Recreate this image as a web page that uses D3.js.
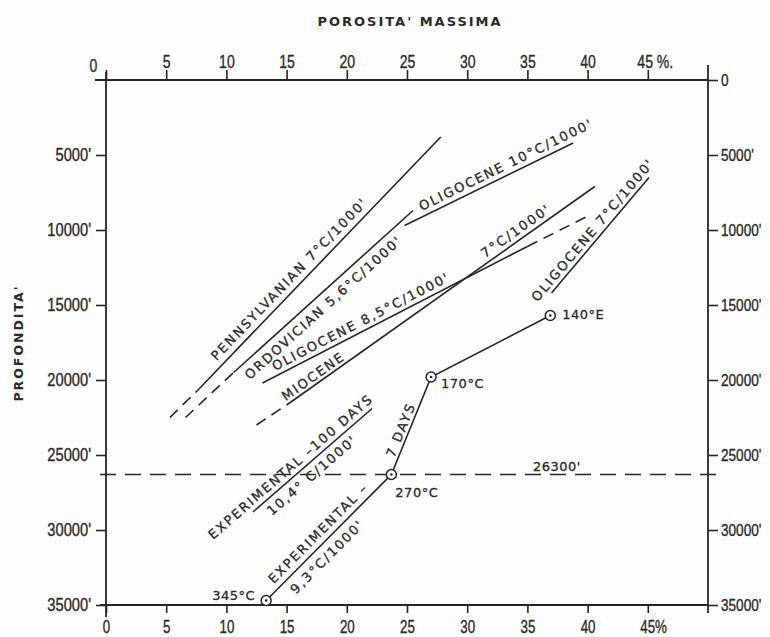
<!DOCTYPE html>
<html><head><meta charset="utf-8">
<script src="https://cdn.jsdelivr.net/npm/d3@7"></script>
<style>
html,body{margin:0;padding:0;background:#fdfdfd;}
svg{display:block;}
</style></head>
<body>
<svg id="chart" width="770" height="637"></svg>
<script>
// ---------- DATA ----------
const xTicks = [0, 5, 10, 15, 20, 25, 30, 35, 40, 45];
const topXLabels = ["0", "5", "10", "15", "20", "25", "30", "35", "40", "45 %."];
const bottomXLabels = ["0", "5", "10", "15", "20", "25", "30", "35", "40", "45%"];
const leftYTicks = [5000, 10000, 15000, 20000, 25000, 30000, 35000];
const leftYLabels = ["5000'", "10000'", "15000'", "20000'", "25000'", "30000'", "35000'"];
const rightYTicks = [0, 5000, 10000, 15000, 20000, 25000, 30000, 35000];
const rightYLabels = ["0", "5000'", "10000'", "15000'", "20000'", "25000'", "30000'", "35000'"];

// lines: [porosity %, depth ft]
const pennsylvanianDashed = [[5.3, 22500], [7.6, 20700]];
const pennsylvanianSolid = [[7.6, 20700], [27.8, 3800]];
const ordovicianDashed = [[6.6, 22500], [10.6, 19500]];
const ordovicianSolid = [[10.6, 19500], [25.5, 8700]];
const oligocene10 = [[24.8, 9700], [38.8, 4200]];
const oligocene85Solid = [[13.0, 20200], [35.0, 11100]];
const oligocene85Dashed = [[35.0, 11100], [40.2, 9000]];
const mioceneDashed = [[12.5, 23000], [15.3, 21500]];
const mioceneSolid = [[15.3, 21500], [40.6, 7100]];
const oligocene7 = [[37.0, 14200], [45.1, 6500]];
const experimental100 = [[12.2, 28800], [22.1, 21900]];

const experimentalPorosity = [13.3, 23.7, 27.0, 36.9];
const experimentalDepth = [34700, 26300, 19800, 15700];
const experimentalLabels = ["345°C", "270°C", "170°C", "140°E"];

const referenceDepth = 26300;
const referenceLabel = "26300'";

// ---------- LAYOUT ----------
const svg = d3.select("#chart");
const x = d3.scaleLinear().domain([0, 50]).range([106, 708]);
const y = d3.scaleLinear().domain([0, 35000]).range([80, 605]);
const ink = "#262626";
const txt = "#2a2a2a";
const tickFont = "'Liberation Sans', 'DejaVu Sans', sans-serif";
const labelFont = "'DejaVu Sans', sans-serif";

// axes frame lines
const frame = svg.append("g").attr("stroke", ink).attr("stroke-width", 1.8);
frame.append("line").attr("x1", 95).attr("x2", x(50)).attr("y1", y(0)).attr("y2", y(0));
frame.append("line").attr("x1", 100).attr("x2", x(50)).attr("y1", y(35000)).attr("y2", y(35000));
frame.append("line").attr("x1", x(0)).attr("x2", x(0)).attr("y1", 72).attr("y2", 617);
frame.append("line").attr("x1", x(50)).attr("x2", x(50)).attr("y1", 65).attr("y2", 613);

// condense tick labels horizontally with a scale transform
function styleAxis(g, size, sx) {
  g.select(".domain").remove();
  g.selectAll(".tick line").attr("stroke", ink).attr("stroke-width", 1.6);
  g.selectAll(".tick text").attr("fill", txt).attr("stroke", txt).attr("stroke-width", 0.35)
    .style("font-family", tickFont).style("font-size", size + "px")
    .each(function () {
      const t = d3.select(this);
      const x0 = +t.attr("x") || 0;
      t.attr("x", x0 / sx).attr("transform", `scale(${sx},1)`);
    });
}
function shiftX(sel, sx, px) { sel.attr("x", px / sx); }

// top axis
const sxX = 0.74;
const gTop = svg.append("g").attr("transform", `translate(0,${y(0)})`)
  .call(d3.axisTop(x).tickValues(xTicks).tickSize(10).tickPadding(2)
    .tickFormat((d, i) => topXLabels[i]));
styleAxis(gTop, 19, sxX);
gTop.selectAll(".tick text").filter(d => d === 0).attr("x", -13 / sxX).attr("y", -8);
gTop.selectAll(".tick text").filter(d => d === 45).attr("text-anchor", "start").attr("x", -11 / sxX);

// bottom axis
const gBot = svg.append("g").attr("transform", `translate(0,${y(35000)})`)
  .call(d3.axisBottom(x).tickValues(xTicks).tickSize(8).tickPadding(7)
    .tickFormat((d, i) => bottomXLabels[i]));
styleAxis(gBot, 18, sxX);
gBot.selectAll(".tick text").filter(d => d === 45).attr("text-anchor", "start").attr("x", -8 / sxX);

// left axis
const gLeft = svg.append("g").attr("transform", `translate(${x(0)},0)`)
  .call(d3.axisLeft(y).tickValues(leftYTicks).tickSize(10).tickPadding(5)
    .tickFormat((d, i) => leftYLabels[i]));
styleAxis(gLeft, 17.5, 0.84);

// right axis
const gRight = svg.append("g").attr("transform", `translate(${x(50)},0)`)
  .call(d3.axisRight(y).tickValues(rightYTicks).tickSize(10).tickPadding(3)
    .tickFormat((d, i) => rightYLabels[i]));
styleAxis(gRight, 17, 0.8);

// axis titles
svg.append("text").attr("x", 410).attr("y", 26).attr("text-anchor", "middle")
  .style("font-family", labelFont).style("font-size", "13px").style("font-weight", "bold")
  .style("letter-spacing", "2px").attr("fill", txt).text("POROSITA'   MASSIMA");
svg.append("text").attr("transform", "translate(23,343) rotate(-90)").attr("text-anchor", "middle")
  .style("font-family", labelFont).style("font-size", "12.5px").style("font-weight", "bold")
  .style("letter-spacing", "2px").attr("fill", txt).text("PROFONDITA'");

// ---------- LINES ----------
const line = d3.line().x(d => x(d[0])).y(d => y(d[1]));
const plot = svg.append("g").attr("fill", "none").attr("stroke", ink).attr("stroke-width", 1.6);
const solidLines = [pennsylvanianSolid, ordovicianSolid, oligocene10, oligocene85Solid,
  mioceneSolid, oligocene7, experimental100];
const dashedLines = [pennsylvanianDashed, ordovicianDashed, oligocene85Dashed, mioceneDashed];
solidLines.forEach(l => plot.append("path").attr("d", line(l)));
dashedLines.forEach(l => plot.append("path").attr("d", line(l)).attr("stroke-dasharray", "11,7"));

// reference depth line
plot.append("line").attr("x1", x(0) - 6).attr("x2", x(50) + 12)
  .attr("y1", y(referenceDepth)).attr("y2", y(referenceDepth))
  .attr("stroke-dasharray", "16,9").attr("stroke-width", 1.7);
svg.append("text").attr("x", 533).attr("y", y(referenceDepth) - 4)
  .style("font-family", labelFont).style("font-size", "13px").style("letter-spacing", "0.5px")
  .attr("fill", txt).attr("stroke", txt).attr("stroke-width", 0.3).text(referenceLabel);

// experimental 7 days path
const expPts = experimentalPorosity.map((p, i) => [p, experimentalDepth[i]]);
plot.append("path").attr("d", line(expPts));
const pts = svg.append("g");
expPts.forEach(p => {
  pts.append("circle").attr("cx", x(p[0])).attr("cy", y(p[1])).attr("r", 5)
    .attr("fill", "#fdfdfd").attr("stroke", ink).attr("stroke-width", 1.5);
  pts.append("circle").attr("cx", x(p[0])).attr("cy", y(p[1])).attr("r", 1.3).attr("fill", ink);
});
const ptLabelPos = [{dx: -11, dy: -5, anchor: "end"}, {dx: 4, dy: 18, anchor: "start"},
  {dx: 10, dy: 6, anchor: "start"}, {dx: 12, dy: -1, anchor: "start"}];
expPts.forEach((p, i) => {
  svg.append("text").attr("x", x(p[0]) + ptLabelPos[i].dx).attr("y", y(p[1]) + ptLabelPos[i].dy)
    .attr("dominant-baseline", "central").attr("text-anchor", ptLabelPos[i].anchor)
    .style("font-family", labelFont).style("font-size", "13px").style("letter-spacing", "0.5px")
    .attr("fill", txt).attr("stroke", txt).attr("stroke-width", 0.3).text(experimentalLabels[i]);
});

// ---------- LINE LABELS ----------
function along(seg, t, off) {
  const x0 = x(seg[0][0]), y0 = y(seg[0][1]), x1 = x(seg[1][0]), y1 = y(seg[1][1]);
  const dx = x1 - x0, dy = y1 - y0, L = Math.hypot(dx, dy);
  const ux = dx / L, uy = dy / L;
  return {px: x0 + dx * t + off * uy, py: y0 + dy * t - off * ux, ang: Math.atan2(dy, dx) * 180 / Math.PI};
}
const lineLabels = [
  {seg: pennsylvanianSolid, t: 0.41, off: 11, text: "PENNSYLVANIAN  7°C/1000'"},
  {seg: ordovicianSolid, t: 0.456, off: -12, text: "ORDOVICIAN 5,6°C/1000'"},
  {seg: oligocene10, t: 0.628, off: 10, text: "OLIGOCENE  10°C/1000'"},
  {seg: oligocene85Solid, t: 0.388, off: 9.5, text: "OLIGOCENE 8,5°C/1000'"},
  {seg: mioceneSolid, t: 0.091, off: 8, text: "MIOCENE"},
  {seg: mioceneSolid, t: 0.759, off: 9.5, text: "7°C/1000'"},
  {seg: oligocene7, t: 0.495, off: 9, text: "OLIGOCENE  7°C/1000'"},
  {seg: experimental100, t: 0.369, off: 9.5, text: "EXPERIMENTAL –100 DAYS"},
  {seg: experimental100, t: 0.436, off: -11, text: "10,4° C/1000'"},
  {seg: [expPts[1], expPts[2]], t: 0.426, off: 8, text: "7 DAYS"},
  {seg: [expPts[0], expPts[1]], t: 0.476, off: 10.5, text: "EXPERIMENTAL –"},
  {seg: [expPts[0], expPts[1]], t: 0.417, off: -12.5, text: "9,3°C/1000'"}
];
lineLabels.forEach(l => {
  const p = along(l.seg, l.t, l.off);
  svg.append("text").attr("transform", `translate(${p.px},${p.py}) rotate(${p.ang})`)
    .attr("text-anchor", "middle").attr("dominant-baseline", "central")
    .style("font-family", labelFont).style("font-size", "13px").style("letter-spacing", "1.9px")
    .attr("fill", txt).attr("stroke", txt).attr("stroke-width", 0.3).text(l.text);
});
</script>
</body></html>
